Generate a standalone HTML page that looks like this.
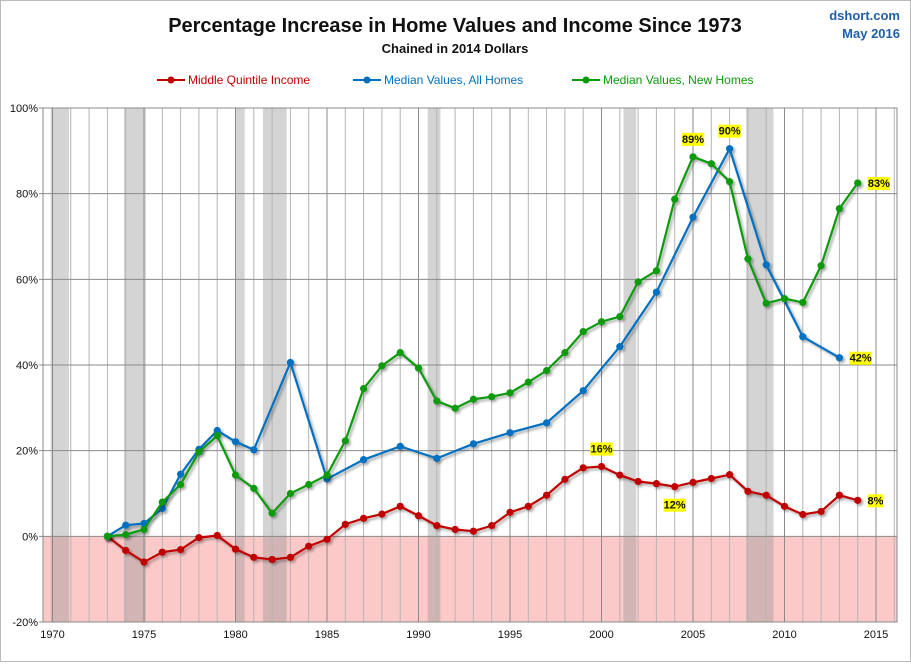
<!DOCTYPE html>
<html><head><meta charset="utf-8"><style>
body{margin:0;background:#fff;font-family:"Liberation Sans",Arial,sans-serif}
svg text{font-family:"Liberation Sans",Arial,sans-serif}
</style></head><body>
<svg id="chart" width="911" height="662" viewBox="0 0 911 662" xmlns="http://www.w3.org/2000/svg">
<defs><filter id="sh" x="-10%" y="-10%" width="130%" height="130%"><feDropShadow dx="2" dy="2" stdDeviation="1.2" flood-color="#000" flood-opacity="0.35"/></filter></defs>
<rect x="0.5" y="0.5" width="910" height="661" fill="#fff" stroke="#bbb"/>
<text x="455" y="32" text-anchor="middle" font-size="20" font-weight="bold" fill="#111">Percentage Increase in Home Values and Income Since 1973</text>
<text x="455" y="53" text-anchor="middle" font-size="13" font-weight="bold" fill="#111">Chained in 2014 Dollars</text>
<text x="900" y="20" text-anchor="end" font-size="13" font-weight="bold" fill="#1f5fa8">dshort.com</text>
<text x="900" y="38" text-anchor="end" font-size="13" font-weight="bold" fill="#1f5fa8">May 2016</text>
<g id="legend"></g>
<g id="plot"></g>
</svg>
<script>
const years=[1973,1974,1975,1976,1977,1978,1979,1980,1981,1982,1983,1984,1985,1986,1987,1988,1989,1990,1991,1992,1993,1994,1995,1996,1997,1998,1999,2000,2001,2002,2003,2004,2005,2006,2007,2008,2009,2010,2011,2012,2013,2014];
const incomeVals=[0,-3.3,-6.0,-3.7,-3.1,-0.3,0.2,-3.0,-4.9,-5.4,-4.9,-2.3,-0.7,2.8,4.2,5.2,7.0,4.8,2.5,1.6,1.2,2.5,5.6,7.0,9.6,13.3,16.0,16.3,14.3,12.8,12.3,11.6,12.6,13.5,14.4,10.5,9.6,7.0,5.1,5.8,9.6,8.4];
const allYears=[1973,1974,1975,1976,1977,1978,1979,1980,1981,1983,1985,1987,1989,1991,1993,1995,1997,1999,2001,2003,2005,2007,2009,2011,2013];
const allVals=[0,2.6,3.0,6.5,14.5,20.3,24.7,22.1,20.2,40.6,13.4,17.9,21.0,18.2,21.6,24.2,26.5,34.0,44.3,57.0,74.5,90.5,63.4,46.6,41.7];
const newVals=[0,0.4,1.6,8.0,12.1,19.7,23.5,14.3,11.2,5.4,10.0,12.1,14.3,22.3,34.5,39.8,42.9,39.3,31.6,29.9,32.0,32.6,33.5,36.0,38.7,42.9,47.8,50.1,51.3,59.4,62.0,78.7,88.6,87.0,82.8,64.8,54.4,55.5,54.6,63.2,76.5,82.5];
const recessionStart=[1969.9,1973.9,1980.0,1981.5,1990.5,2001.2,2007.9];
const recessionEnd=[1970.9,1975.1,1980.5,1982.8,1991.2,2001.9,2009.4];
const yTicks=[100,80,60,40,20,0,-20];
const xTicks=[1970,1975,1980,1985,1990,1995,2000,2005,2010,2015];

const NS="http://www.w3.org/2000/svg";
const X0=43,X1=897,Y0=108,Y1=622;
const xs=y=>52.5+(y-1970)*18.3;
const ys=v=>Y0+(100-v)/120*(Y1-Y0);
const plot=document.getElementById('plot');
function el(t,a,p){const e=document.createElementNS(NS,t);for(const k in a)e.setAttribute(k,a[k]);(p||plot).appendChild(e);return e;}

let r=el('rect',{x:X0,y:ys(0),width:X1-X0,height:Y1-ys(0),fill:'#fcc9c9'});


for(let i=0;i<recessionStart.length;i++){
  const b=el('rect',{x:xs(recessionStart[i]),y:Y0,width:xs(recessionEnd[i])-xs(recessionStart[i]),height:Y1-Y0,fill:'#999',opacity:0.42});
  
  
}
for(let y=1970;y<=2016;y++){
  const g=el('line',{x1:xs(y),x2:xs(y),y1:Y0,y2:Y1,stroke:y%5===0?'#8a8a8a':'#b4b4b4','stroke-width':1});
  
  
}
yTicks.forEach(v=>{
  const g=el('line',{x1:X0-4,x2:X1,y1:ys(v),y2:ys(v),stroke:'#8a8a8a','stroke-width':1});
  
  
  const t=el('text',{x:38,y:ys(v)+4,'text-anchor':'end','font-size':11,fill:'#111'});t.textContent=v+'%';
  
  
});
xTicks.forEach(v=>{
  const t=el('text',{x:xs(v),y:Y1+16,'text-anchor':'middle','font-size':11,fill:'#111'});t.textContent=v;
  
  
});
el('rect',{x:X0,y:Y0,width:X1-X0,height:Y1-Y0,fill:'none',stroke:'#8a8a8a'});

function series(xv,yv,color,name){
  const g=el('g',{filter:'url(#sh)'});
  
  
  el('polyline',{points:xv.map((x,i)=>xs(x)+','+ys(yv[i])).join(' '),fill:'none',stroke:color,'stroke-width':2.2},g);
  xv.forEach((x,i)=>{const c=el('circle',{cx:xs(x),cy:ys(yv[i]),r:3.6,fill:color},g);
    
    });
}
series(years,incomeVals,'#c00000','income-series');
series(allYears,allVals,'#0070c0','all-homes-series');
series(years,newVals,'#0a9a0a','new-homes-series');

function lbl(text,x,y,anchor,name){
  const g=el('g',{});
  
  
  const w=text.length*6.8+2;
  const lx=anchor==='middle'?x-w/2:x;
  el('rect',{x:lx,y:y-10,width:w,height:13,fill:'#ffff00'},g);
  const t=el('text',{x:lx+w/2,y:y,'text-anchor':'middle','font-size':11,'font-weight':'bold',fill:'#111'},g);t.textContent=text;
}
lbl('89%',xs(2005),ys(newVals[32])-14,'middle','label-new-peak');
lbl('90%',xs(2007),ys(allVals[21])-14,'middle','label-all-peak');
lbl('83%',xs(2014)+10,ys(newVals[41])+4,'start','label-new-last');
lbl('42%',xs(2013)+10,ys(allVals[24])+4,'start','label-all-last');
lbl('16%',xs(2000),ys(incomeVals[27])-14,'middle','label-income-peak');
lbl('12%',xs(2004),ys(incomeVals[31])+22,'middle','label-income-low');
lbl('8%',xs(2014)+10,ys(incomeVals[41])+4,'start','label-income-last');

const lg=document.getElementById('legend');
[['Middle Quintile Income','#c00000',157],['Median Values, All Homes','#0070c0',353],['Median Values, New Homes','#0a9a0a',572]].forEach(([n,c,x])=>{
  const g=el('g',{},lg);
  
  
  el('line',{x1:x,x2:x+28,y1:80,y2:80,stroke:c,'stroke-width':2},g);
  el('circle',{cx:x+14,cy:80,r:3.5,fill:c},g);
  const t=el('text',{x:x+31,y:84,'font-size':12,fill:c},g);t.textContent=n;
});
</script>
</body></html>
